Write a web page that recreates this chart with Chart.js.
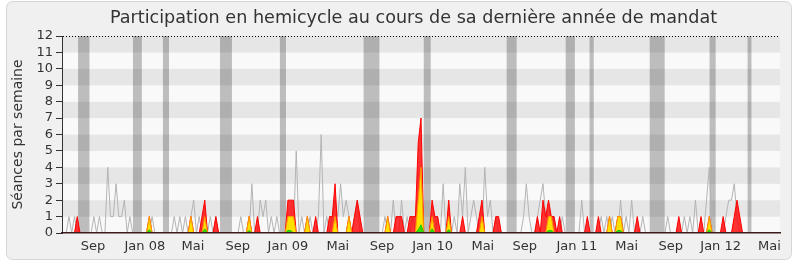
<!DOCTYPE html>
<html>
<head>
<meta charset="utf-8">
<script src="https://cdn.jsdelivr.net/npm/chart.js@4.4.1/dist/chart.umd.min.js"></script>
<style>
  body { margin: 0; background: #fff; }
  canvas { display: block; }
</style>
</head>
<body>
<canvas id="myChart" width="800" height="267"></canvas>
<script>
"use strict";

const titre = 'Participation en hemicycle au cours de sa dernière année de mandat';

// one value per week, starting mid-June 2007
const seances = [
  0,0,1,0,1,0,0,0,0,0,
  0,1,0,1,0,0,4,1,1,3,
  1,1,2,0,1,0,0,0,0,0,
  0,0,1,0,0,0,0,0,0,0,
  1,0,1,0,1,0,1,2,0,1,
  0,1,0,1,0,1,0,0,0,0,
  0,0,0,0,1,0,0,0,3,0,
  0,2,1,2,0,1,0,1,0,0,
  0,0,0,0,5,0,1,0,0,1,
  0,0,1,6,0,1,0,1,2,1,
  3,1,2,1,0,1,2,0,0,0,
  0,0,0,0,0,0,1,0,0,2,
  0,0,2,0,1,0,1,0,1,0,
  0,0,0,0,0,1,0,3,0,0,
  0,1,0,3,1,4,0,1,2,1,
  0,0,4,1,2,0,1,0,0,0,
  0,0,0,0,0,0,1,3,1,0,
  0,1,2,3,1,1,0,1,0,0,
  1,0,0,0,0,0,0,2,0,0,
  0,0,0,0,1,0,1,0,1,0,
  0,2,0,1,0,2,0,0,0,1,
  0,0,0,0,0,0,0,0,1,0,
  0,0,0,0,1,0,1,0,2,0,
  0,0,2,4,0,0,0,0,0,1,
  2,2,3,1,0,0,0,0,0,0,
  0,0,0,0,0,0,0,0,0
];

const presence = [
  0,0,0,0,0,1,0,0,0,0,
  0,0,0,0,0,0,0,0,0,0,
  0,0,0,0,0,0,0,0,0,0,
  0,1,0,0,0,0,0,0,0,0,
  0,0,0,0,0,0,1,0,0,0,
  1,2,0,0,0,1,0,0,0,0,
  0,0,0,0,0,0,0,1,0,0,
  1,0,0,0,0,0,0,0,0,0,
  0,2,2,2,0,0,0,0,1,0,
  0,1,0,0,0,0,1,1,3,0,
  0,0,0,1,0,1,2,1,0,0,
  0,0,0,0,0,0,0,1,0,0,
  1,1,1,0,0,1,1,1,5.5,7,
  0,0,0,2,1,1,0,0,0,2,
  0,0,0,0,1,0,0,0,0,0,
  1,2,0,0,0,0,1,1,0,0,
  0,0,0,0,0,0,0,0,0,0,
  0,1,0,2,1,2,1,1,0,1,
  0,0,0,0,0,0,0,0,0,1,
  0,0,0,1,0,0,0,1,0,0,
  1,1,0,0,0,0,0,1,0,0,
  0,0,0,0,0,0,0,0,0,0,
  0,0,1,0,0,0,0,0,0,0,
  1,0,0,1,0,0,0,0,1,0,
  0,0,1,2,1,0,0,0,0,0,
  0,0,0,0,0,0,0,0,0
];

const interventions = [
  0,0,0,0,0,0,0,0,0,0,
  0,0,0,0,0,0,0,0,0,0,
  0,0,0,0,0,0,0,0,0,0,
  0,1,0,0,0,0,0,0,0,0,
  0,0,0,0,0,0,1,0,0,0,
  0,1,0,0,0,0,0,0,0,0,
  0,0,0,0,0,0,0,1,0,0,
  0,0,0,0,0,0,0,0,0,0,
  0,1,1,1,0,0,0,0,1,0,
  0,0,0,0,0,0,0,0,1,0,
  0,0,0,1,0,0,0,0,0,0,
  0,0,0,0,0,0,0,1,0,0,
  0,0,0,0,0,0,0,0,2,4,
  0,0,0,1,0,0,0,0,0,1,
  0,0,0,0,0,0,0,0,0,0,
  0,1,0,0,0,0,0,0,0,0,
  0,0,0,0,0,0,0,0,0,0,
  0,0,0,0,0,1,1,0,0,0,
  0,0,0,0,0,0,0,0,0,0,
  0,0,0,0,0,0,0,1,0,0,
  1,1,0,0,0,0,0,0,0,0,
  0,0,0,0,0,0,0,0,0,0,
  0,0,0,0,0,0,0,0,0,0,
  0,0,0,1,0,0,0,0,0,0,
  0,0,0,0,0,0,0,0,0,0,
  0,0,0,0,0,0,0,0,0
];

const questions = [
  0,0,0,0,0,0,0,0,0,0,
  0,0,0,0,0,0,0,0,0,0,
  0,0,0,0,0,0,0,0,0,0,
  0,0.2,0,0,0,0,0,0,0,0,
  0,0,0,0,0,0,0,0,0,0,
  0,0.25,0,0,0,0,0,0,0,0,
  0,0,0,0,0,0,0,0.15,0,0,
  0,0,0,0,0,0,0,0,0,0,
  0,0.15,0.15,0,0,0,0,0,0,0,
  0,0,0,0,0,0,0,0,0,0,
  0,0,0,0,0,0,0,0,0,0,
  0,0,0,0,0,0,0,0,0,0,
  0,0,0,0,0,0,0,0,0.2,0.5,
  0,0,0,0.25,0,0,0,0,0,0.2,
  0,0,0,0,0,0,0,0,0,0,
  0,0,0,0,0,0,0,0,0,0,
  0,0,0,0,0,0,0,0,0,0,
  0,0,0,0,0,0.15,0.15,0,0,0,
  0,0,0,0,0,0,0,0,0,0,
  0,0,0,0,0,0,0,0,0,0,
  0.15,0.15,0,0,0,0,0,0,0,0,
  0,0,0,0,0,0,0,0,0,0,
  0,0,0,0,0,0,0,0,0,0,
  0,0,0,0.2,0,0,0,0,0,0,
  0,0,0,0,0,0,0,0,0,0,
  0,0,0,0,0,0,0,0,0
];

// vacances parlementaires, in weeks from the start
const vacances = [[5.8, 9.9], [25.6, 28.8], [36.4, 38.6], [57.0, 61.3], [78.6, 80.8],
    [108.8, 114.5], [130.5, 133.0], [160.4, 164.0], [181.7, 185.0], [190.3, 191.8],
    [212.0, 217.4], [233.6, 235.8], [247.3, 248.7]];

const tickWeeks = [11.2, 29.9, 47.2, 63.4, 81.5, 99.5, 115.4, 133.7, 151.8, 166.9,
    185.7, 203.7, 219.6, 237.6, 255.2];
const tickLabels = ['Sep', 'Jan 08', 'Mai', 'Sep', 'Jan 09', 'Mai', 'Sep', 'Jan 10',
    'Mai', 'Sep', 'Jan 11', 'Mai', 'Sep', 'Jan 12', 'Mai'];

const nbWeeks = seances.length;
const font = 'DejaVu Sans';

function toPoints(arr) {
    return arr.map((v, i) => ({ x: i + 0.5, y: v }));
}

const backdrop = {
    id: 'backdrop',
    beforeDraw(chart) {
        const ctx = chart.ctx;
        const a = chart.chartArea;
        const x = chart.scales.x;
        const y = chart.scales.y;
        ctx.save();
        ctx.fillStyle = '#fff';
        ctx.fillRect(0, 0, chart.width, chart.height);
        ctx.beginPath();
        ctx.roundRect(6.5, 1.5, 785, 258, 6);
        ctx.fillStyle = '#f0f0f0';
        ctx.fill();
        ctx.strokeStyle = '#d6d6d6';
        ctx.lineWidth = 1;
        ctx.stroke();

        // alternating horizontal bands
        for (let v = 0; v < 12; v++) {
            const top = y.getPixelForValue(v + 1);
            const bot = y.getPixelForValue(v);
            ctx.fillStyle = v % 2 ? '#e6e6e6' : '#f9f9f9';
            ctx.fillRect(a.left, top, a.right - a.left, bot - top);
        }

        ctx.fillStyle = 'rgba(0,0,0,0.24)';
        vacances.forEach(function (p) {
            const x1 = x.getPixelForValue(p[0]);
            const x2 = x.getPixelForValue(p[1]);
            ctx.fillRect(x1, a.top, x2 - x1, a.bottom - a.top);
        });

        // title, centred a bit right like the original
        ctx.fillStyle = '#333';
        ctx.font = '17.6px "' + font + '"';
        ctx.textAlign = 'center';
        ctx.textBaseline = 'middle';
        ctx.fillText(titre, 413.5, 18);
        ctx.restore();
    }
};

const ctx = document.getElementById('myChart').getContext('2d');
const myChart = new Chart(ctx, {
    type: 'line',
    data: {
        datasets: [{
            label: 'Questions',
            data: toPoints(questions),
            borderColor: '#22c000',
            backgroundColor: '#33dd00',
            borderWidth: 1,
            fill: 'origin',
            order: 1
        },
        {
            label: 'Interventions',
            data: toPoints(interventions),
            borderColor: '#ff9900',
            backgroundColor: '#ffe100',
            borderWidth: 1,
            fill: 'origin',
            order: 2
        },
        {
            label: 'Présence',
            data: toPoints(presence),
            borderColor: '#ff0000',
            backgroundColor: 'rgba(255,0,0,0.8)',
            borderWidth: 1,
            fill: 'origin',
            order: 3
        },
        {
            label: 'Séances',
            data: toPoints(seances),
            borderColor: '#b4b4b4',
            borderWidth: 1,
            fill: false,
            order: 4
        }]
    },
    options: {
        responsive: false,
        animation: false,
        devicePixelRatio: 1,
        elements: {
            point: { radius: 0 },
            line: { tension: 0 }
        },
        layout: {
            padding: { left: 6, right: 20, top: 36, bottom: 0 }
        },
        plugins: {
            legend: { display: false },
            tooltip: { enabled: false },
            title: { display: false }
        },
        scales: {
            x: {
                type: 'linear',
                min: 0,
                max: nbWeeks,
                grid: { display: false, drawTicks: false },
                border: { display: true, color: '#3a1a1a', width: 1.5, z: 1 },
                afterBuildTicks: function (scale) {
                    scale.ticks = tickWeeks.map(v => ({ value: v }));
                },
                afterFit: function (scale) {
                    scale.height = 34;
                },
                ticks: {
                    autoSkip: false,
                    maxRotation: 0,
                    minRotation: 0,
                    padding: 6,
                    color: '#333',
                    font: { family: font, size: 13 },
                    callback: function (value, index) {
                        return tickLabels[index];
                    }
                }
            },
            y: {
                min: 0,
                max: 12,
                grid: {
                    color: c => (c.tick && c.tick.value === 12) ? '#000' : 'rgba(0,0,0,0)',
                    tickColor: '#333',
                    tickLength: 6
                },
                border: { display: true, color: '#333', width: 1, dash: [1, 2] },
                afterFit: function (scale) {
                    scale.width = 56;
                },
                ticks: {
                    stepSize: 1,
                    autoSkip: false,
                    padding: 3,
                    color: '#333',
                    font: { family: font, size: 13 }
                },
                title: {
                    display: true,
                    text: 'Séances par semaine',
                    color: '#333',
                    font: { family: font, size: 14 },
                    padding: { top: 4, bottom: 0 }
                }
            }
        }
    },
    plugins: [backdrop]
});
</script>
</body>
</html>
